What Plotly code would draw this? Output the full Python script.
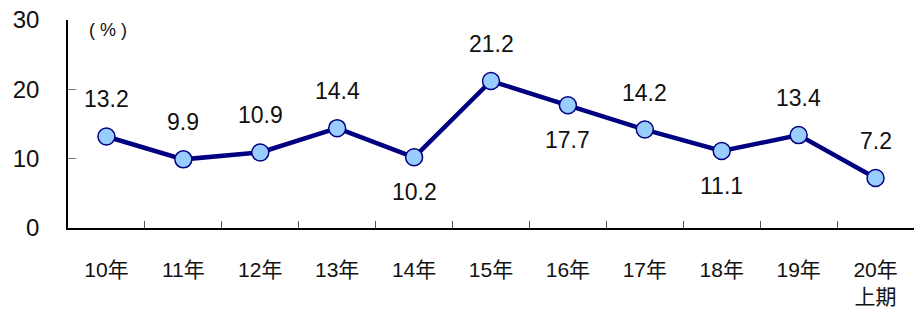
import plotly.graph_objects as go

categories = ["10年", "11年", "12年", "13年", "14年", "15年", "16年", "17年", "18年", "19年", "20年<br>上期"]
values = [13.2, 9.9, 10.9, 14.4, 10.2, 21.2, 17.7, 14.2, 11.1, 13.4, 7.2]
label_pos = ["above", "above", "above", "above", "below", "above", "below", "above", "below", "above", "above"]
y_ticks = [0, 10, 20, 30]

fig = go.Figure()
fig.add_trace(go.Scatter(
    x=categories, y=values, mode="lines+markers",
    line=dict(color="#000080", width=4.5),
    marker=dict(size=17, color="#99CCFF", line=dict(color="#000080", width=1.5)),
    hoverinfo="skip", cliponaxis=False,
))

for c, v, p in zip(categories, values, label_pos):
    fig.add_annotation(x=c, y=v, text=f"{v:.1f}", showarrow=False,
                       yshift=37 if p == "above" else -35,
                       font=dict(family="Liberation Sans, Arial", size=23, color="#111111"))

fig.add_annotation(xref="paper", yref="paper", x=0.047, y=0.95, text="( % )", showarrow=False,
                   xanchor="center", yanchor="middle",
                   font=dict(family="Liberation Sans, Arial", size=18, color="#111111"))

fig.update_layout(
    width=917, height=310,
    margin=dict(l=68, r=3, t=20, b=82),
    plot_bgcolor="white", paper_bgcolor="white",
    showlegend=False,
    font=dict(family="Liberation Sans, Noto Sans CJK JP, Arial", color="#111111"),
    xaxis=dict(
        type="category", showline=True, linecolor="black", linewidth=1.5,
        ticks="inside", tickson="boundaries", ticklen=7, tickcolor="#555555", tickwidth=1,
        showgrid=False, tickfont=dict(size=21), ticklabelstandoff=22,
        range=[-0.5, len(categories) - 0.5], automargin=False,
    ),
    yaxis=dict(
        range=[0, 30], tickvals=y_ticks, showline=True, linecolor="black", linewidth=1.5,
        ticks="inside", ticklen=8, tickcolor="#777777", tickwidth=1,
        showgrid=False, zeroline=False, tickfont=dict(size=24), ticklabelstandoff=22,
        ticklabeloverflow="allow", automargin=False,
    ),
)

fig.write_html("out.html", config={"displayModeBar": False},
               post_script="document.body.style.margin='0';")
